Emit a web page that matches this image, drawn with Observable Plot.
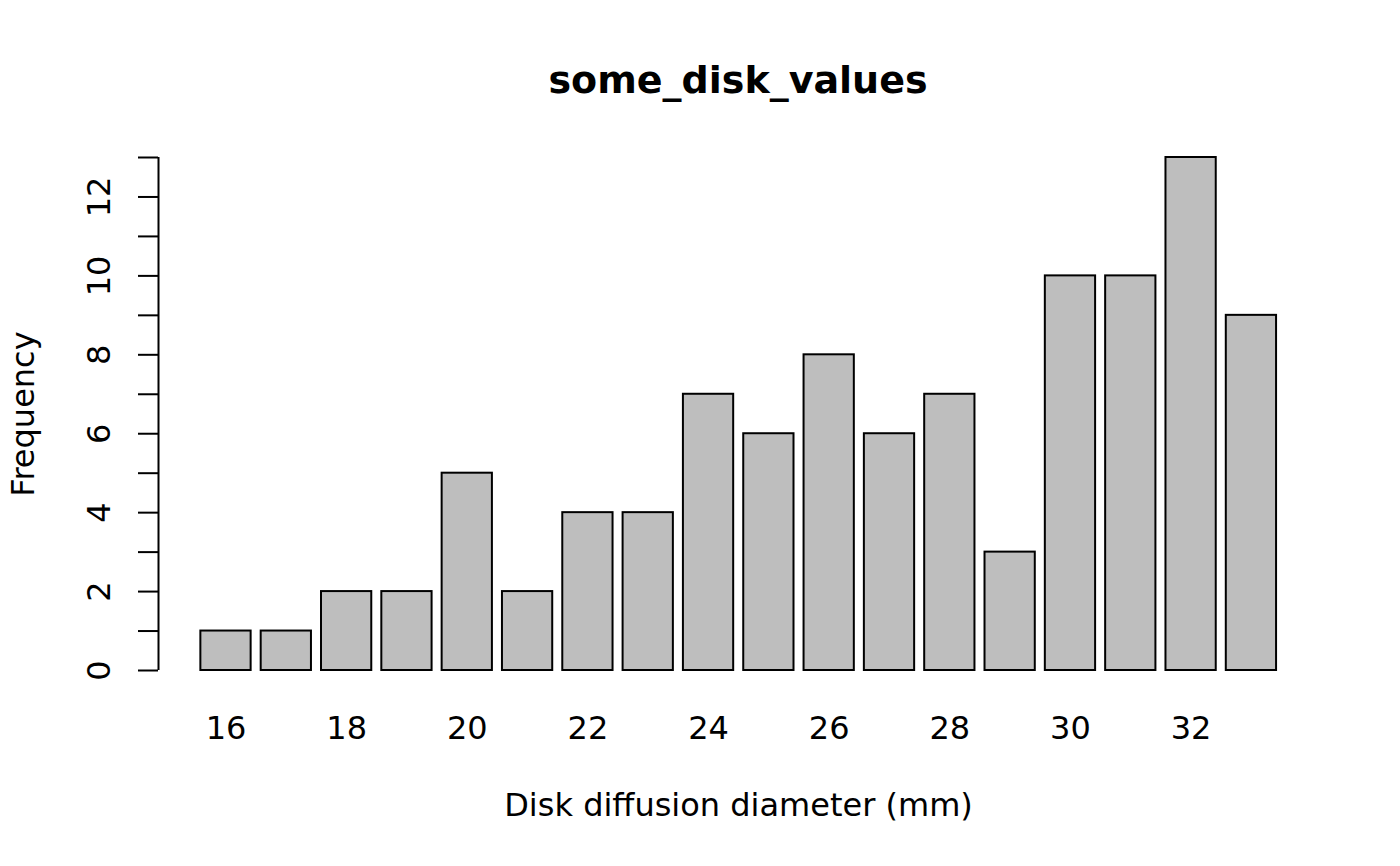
<!DOCTYPE html>
<html>
<head>
<meta charset="utf-8">
<script src="https://cdn.jsdelivr.net/npm/d3@7"></script>
<script src="https://cdn.jsdelivr.net/npm/@observablehq/plot@0.6"></script>
<style>
  html, body { margin: 0; padding: 0; background: #ffffff; }
  #title {
    width: 1400px; height: 130px; box-sizing: border-box;
    padding: 61px 82px 0 158px;
    font-family: "DejaVu Sans", sans-serif; font-weight: bold;
    font-size: 38px; line-height: 38px; text-align: center; color: #000;
  }
  #chart svg { display: block; }
</style>
</head>
<body>
<div id="title">some_disk_values</div>
<div id="chart"></div>
<script>
// Disk diffusion diameters (mm) and their frequencies
const diameters = [16, 17, 18, 19, 20, 21, 22, 23, 24, 25, 26, 27, 28, 29, 30, 31, 32, 33];
const counts    = [ 1,  1,  2,  2,  5,  2,  4,  4,  7,  6,  8,  6,  7,  3, 10, 10, 13,  9];
const xTickLabels = [16, 18, 20, 22, 24, 26, 28, 30, 32];
const yTicks = [0, 1, 2, 3, 4, 5, 6, 7, 8, 9, 10, 11, 12, 13];
const yTickLabels = [0, 2, 4, 6, 8, 10, 12];
const titleText = "some_disk_values";
const xLabel = "Disk diffusion diameter (mm)";
const yLabel = "Frequency";

const bars = diameters.map((d, i) => ({diameter: d, count: counts[i]}));
const xDomain = [14.881, 34.112];
const half = 0.4167;

const chart = Plot.plot({
  width: 1400,
  height: 736,
  marginTop: 27,
  marginBottom: 196,
  marginLeft: 158,
  marginRight: 82,
  style: {fontFamily: "DejaVu Sans", fontSize: "32px", color: "#000", background: "#fff"},
  x: {type: "linear", domain: xDomain, axis: null},
  y: {type: "linear", domain: [0, 13], axis: null},
  marks: [
    Plot.rect(bars, {
      x1: d => d.diameter - half,
      x2: d => d.diameter + half,
      y1: 0,
      y2: "count",
      fill: "#bebebe",
      stroke: "#000",
      strokeWidth: 2
    }),
    Plot.ruleX([xDomain[0]], {y1: 0, y2: 13, stroke: "#000", strokeWidth: 2}),
    Plot.axisY(yTicks, {tickSize: 20, tickFormat: () => "", stroke: "#000", strokeWidth: 2, label: null}),
    Plot.text(yTickLabels, {
      x: xDomain[0], y: d => d, text: d => String(d),
      dx: -59, rotate: -90, textAnchor: "middle", lineAnchor: "middle",
      fontSize: 32, fill: "#000"
    }),
    Plot.text(xTickLabels, {
      x: d => d, frameAnchor: "bottom", text: d => String(d),
      dy: 58, textAnchor: "middle", lineAnchor: "middle",
      fontSize: 32, fill: "#000"
    }),
    Plot.text([xLabel], {
      frameAnchor: "bottom", text: d => d,
      dy: 135, textAnchor: "middle", lineAnchor: "middle",
      fontSize: 32, fill: "#000"
    }),
    Plot.text([yLabel], {
      frameAnchor: "left", text: d => d,
      dx: -135, rotate: -90, textAnchor: "middle", lineAnchor: "middle",
      fontSize: 32, fill: "#000"
    })
  ]
});
document.getElementById("chart").appendChild(chart);
</script>
</body>
</html>
